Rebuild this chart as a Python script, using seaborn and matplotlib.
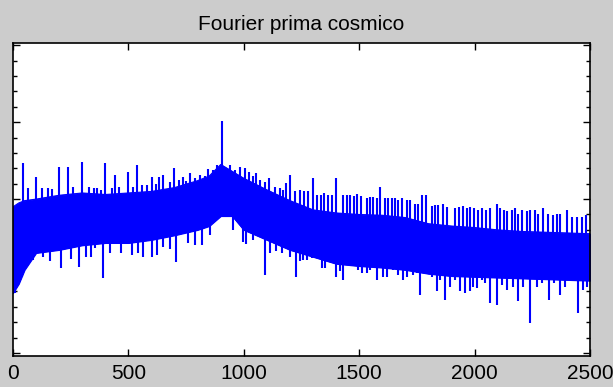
import numpy as np
import pandas as pd
import matplotlib
matplotlib.use("Agg")
import matplotlib.pyplot as plt
import seaborn as sns

# ---- data (arbitrary linear units on y) ----
band_freq = [0, 25, 50, 100, 200, 300, 400, 500, 600, 700, 800, 850, 900, 950,
             1000, 1100, 1200, 1300, 1400, 1500, 1600, 1700, 1800, 1900, 2000,
             2100, 2200, 2300, 2400, 2500]
band_high = [1.90, 1.95, 1.98, 2.00, 2.05, 2.08, 2.06, 2.08, 2.10, 2.15, 2.24, 2.30, 2.45, 2.36,
             2.27, 2.12, 1.98, 1.86, 1.82, 1.80, 1.79, 1.76, 1.68, 1.65, 1.63,
             1.60, 1.58, 1.57, 1.56, 1.55]
band_low = [0.78, 0.90, 1.08, 1.30, 1.34, 1.40, 1.43, 1.43, 1.47, 1.53, 1.60, 1.65, 1.78, 1.78,
            1.60, 1.47, 1.34, 1.25, 1.16, 1.13, 1.11, 1.08, 1.03, 1.00, 0.99,
            0.98, 0.97, 0.96, 0.95, 0.94]

up_freq = [42, 66, 100, 124, 150, 170, 201, 240, 260, 300, 331, 350, 363, 380, 400,
           430, 442, 460, 497, 520, 538, 560, 579, 601, 620, 634, 651, 680, 698,
           720, 735, 750, 767, 789, 810, 830, 846, 868, 882, 907, 940, 962, 984,
           1005, 1024, 1040, 1053, 1070, 1090, 1111, 1135, 1157, 1170, 1183, 1200,
           1220, 1244, 1261, 1280, 1298, 1316, 1333, 1348, 1366, 1381, 1400, 1431,
           1446, 1460, 1477, 1492, 1506, 1532, 1547, 1561, 1576, 1590, 1612, 1626,
           1641, 1655, 1670, 1684, 1706, 1720, 1742, 1756, 1774, 1788, 1814, 1828,
           1843, 1865, 1882, 1915, 1934, 1951, 1966, 1980, 1997, 2016, 2031, 2049,
           2067, 2096, 2110, 2127, 2142, 2161, 2175, 2190, 2204, 2226, 2240, 2262,
           2276, 2298, 2320, 2338, 2356, 2370, 2399, 2421, 2442, 2464, 2481]
up_val = [2.47, 2.14, 2.29, 2.14, 2.14, 2.13, 2.42, 2.42, 2.16, 2.48, 2.16, 2.14, 2.14, 2.12, 2.47,
          2.14, 2.31, 2.16, 2.35, 2.16, 2.44, 2.18, 2.18, 2.29, 2.20, 2.29, 2.31, 2.22, 2.40,
          2.25, 2.29, 2.24, 2.34, 2.27, 2.31, 2.30, 2.39, 2.38, 2.44, 3.01, 2.44, 2.38, 2.42,
          2.40, 2.35, 2.30, 2.34, 2.25, 2.22, 2.27, 2.16, 2.14, 2.12, 2.21, 2.31,
          2.10, 2.12, 2.10, 2.10, 2.27, 2.05, 2.05, 2.08, 2.05, 2.05, 2.27, 2.05,
          2.05, 2.05, 2.04, 2.07, 2.04, 2.01, 2.03, 2.03, 2.01, 2.16, 2.01, 2.01,
          2.01, 2.01, 1.99, 2.01, 1.99, 1.99, 1.94, 1.94, 2.05, 2.05, 1.91, 1.92,
          1.92, 1.94, 1.90, 1.88, 1.90, 1.91, 1.88, 1.90, 1.88, 1.86, 1.88, 1.86,
          1.88, 1.93, 1.88, 1.86, 1.84, 1.86, 1.88, 1.81, 1.86, 1.84, 1.86, 1.86,
          1.81, 1.88, 1.81, 1.79, 1.81, 1.81, 1.86, 1.77, 1.77, 1.77, 1.79]

down_freq = [9, 38, 71, 88, 129, 160, 207, 250, 287, 316, 340, 355, 391, 420, 470, 514,
             540, 565, 601, 623, 651, 680, 706, 760, 790, 817, 854, 955, 998, 1010,
             1041, 1092, 1114, 1140, 1164, 1200, 1226,
             1244, 1258, 1275, 1294, 1337, 1352, 1366, 1388, 1400, 1417, 1431, 1453,
             1475, 1496, 1511, 1532, 1547, 1561, 1576, 1590, 1605, 1619, 1648, 1670,
             1691, 1706, 1735, 1749, 1763, 1814, 1836, 1850, 1873, 1893, 1915, 1937,
             1958, 1980, 1995, 2012, 2031, 2045, 2067, 2096, 2117, 2139, 2168, 2190,
             2211, 2240, 2269, 2291, 2324, 2344, 2370, 2392, 2413, 2449, 2471, 2486]
down_val = [0.78, 0.99, 1.25, 1.21, 1.25, 1.20, 1.10, 1.22, 1.12, 1.25, 1.25, 1.36, 0.97, 1.30, 1.30, 1.27,
            1.30, 1.25, 1.25, 1.27, 1.38, 1.35, 1.18, 1.43, 1.40, 1.40, 1.53, 1.60, 1.44, 1.42,
            1.47, 1.01, 1.30, 1.32, 1.30, 1.25, 0.99,
            1.19, 1.21, 1.21, 1.23, 1.10, 1.10, 1.19, 1.17, 0.99, 1.06, 0.95, 1.14,
            1.14, 1.08, 1.04, 1.04, 1.08, 1.12, 0.95, 1.10, 0.99, 0.99, 1.08, 1.01,
            0.95, 0.99, 1.01, 1.04, 0.75, 0.99, 0.80, 0.95, 0.69, 0.86, 0.95, 0.80,
            0.78, 0.80, 0.86, 0.84, 0.95, 0.91, 0.65, 0.62, 0.88, 0.82, 0.86, 0.67,
            0.86, 0.39, 0.86, 0.91, 0.69, 0.91, 0.75, 0.86, 0.95, 0.52, 0.82, 0.86]

x_ticks = [0, 500, 1000, 1500, 2000, 2500]
x_tick_labels = ["0", "500", "1000", "1500", "2000", "2500"]
title = "Fourier prima cosmico"

# ---- drawing ----
sns.set_style("ticks")
plt.rcParams["font.family"] = ["Liberation Sans Narrow", "Liberation Sans", "DejaVu Sans"]

BLUE = "#0000ff"
GRAY = "#cccccc"

fig = plt.figure(figsize=(6.13, 3.87), dpi=100, facecolor=GRAY)
ax = fig.add_axes([13 / 613, 1 - 356 / 387, 577 / 613, 313 / 387])
ax.set_facecolor("white")

band = pd.DataFrame({"freq": band_freq, "high": band_high, "low": band_low})
ax.fill_between(band["freq"], band["low"], band["high"], color=BLUE, lw=0.8,
                edgecolor=BLUE)
sns.lineplot(data=band, x="freq", y="high", color=BLUE, lw=0.8, ax=ax)
sns.lineplot(data=band, x="freq", y="low", color=BLUE, lw=0.8, ax=ax)

mid = (np.array(band_low) + np.array(band_high)) / 2
up_base = np.interp(up_freq, band_freq, mid)
down_base = np.interp(down_freq, band_freq, mid)
ax.vlines(up_freq, up_base, up_val, color=BLUE, lw=1.5)
ax.vlines(down_freq, down_val, down_base, color=BLUE, lw=1.5)

ax.set_xlim(0, 2500)
ax.set_ylim(-0.04, 4.03)
ax.set_xticks(x_ticks)
ax.set_xticklabels(x_tick_labels)
ax.set_yticks([0, 1, 2, 3, 4])
ax.set_yticks(np.arange(0, 4.01, 0.2), minor=True)
ax.set_yticklabels([])
ax.set_xlabel("")
ax.set_ylabel("")

ax.tick_params(axis="both", which="both", direction="in", top=True, right=True,
               colors="black", width=1.0)
ax.tick_params(axis="both", which="major", length=5)
ax.tick_params(axis="y", which="minor", length=3)
ax.tick_params(axis="x", which="major", labelsize=15, pad=6)
for s in ax.spines.values():
    s.set_visible(True)
    s.set_color("black")
    s.set_linewidth(1.2)

ax.set_title(title, fontsize=15, pad=9, color="black")

fig.savefig("out.png", dpi=100, facecolor=GRAY)
